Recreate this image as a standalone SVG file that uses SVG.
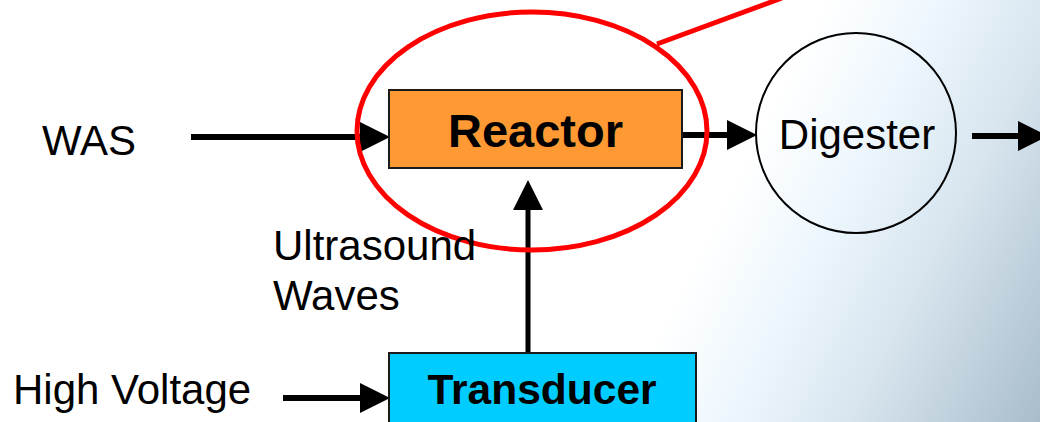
<svg xmlns="http://www.w3.org/2000/svg" width="1040" height="422" viewBox="0 0 1040 422">
<defs>
<linearGradient id="bg" gradientUnits="userSpaceOnUse" x1="700" y1="250" x2="1040" y2="422">
<stop offset="0" stop-color="#FFFFFF"/>
<stop offset="0.25" stop-color="#EEF7FD"/>
<stop offset="0.55" stop-color="#D8E5EF"/>
<stop offset="1" stop-color="#A9BDCB"/>
</linearGradient>
<marker id="ah" markerUnits="userSpaceOnUse" markerWidth="30" markerHeight="30" refX="0" refY="15" orient="auto" overflow="visible">
<path d="M0,0 L30,15 L0,30 Z" fill="#000"/>
</marker>
<style>
.lbl{font-family:"Liberation Sans",Arial,sans-serif;font-size:42px;fill:#000}
.bold{font-family:"Liberation Sans",Arial,sans-serif;font-weight:bold;fill:#000}
.conn{stroke:#000;stroke-width:6;fill:none;marker-end:url(#ah)}
.box{stroke:#1a1a1a;stroke-width:2}
</style>
</defs>
<rect x="0" y="0" width="1040" height="422" fill="url(#bg)"/>
<g id="connectors">
<line class="conn" x1="191" y1="137" x2="360" y2="137"/>
<line class="conn" x1="682" y1="135" x2="727" y2="135"/>
<line class="conn" x1="972" y1="136" x2="1018" y2="136"/>
<line class="conn" x1="528" y1="353" x2="528" y2="210" style="stroke-width:5"/>
<line class="conn" x1="283" y1="398" x2="360" y2="398"/>
</g>
<g id="reactor">
<rect class="box" x="389" y="90" width="293" height="78" fill="#FF9933"/>
<text class="bold" x="535.5" y="147" font-size="47" text-anchor="middle">Reactor</text>
</g>
<g id="digester">
<circle cx="856" cy="133" r="100" fill="none" stroke="#000" stroke-width="2"/>
<text class="lbl" x="857" y="149" text-anchor="middle">Digester</text>
</g>
<g id="transducer">
<rect class="box" x="389" y="353" width="307" height="80" fill="#00CCFF"/>
<text class="bold" x="542" y="404" font-size="42.5" text-anchor="middle">Transducer</text>
</g>
<g id="highlight">
<ellipse cx="532" cy="131" rx="175" ry="119" fill="none" stroke="#FF0000" stroke-width="5"/>
<line x1="657" y1="44" x2="782" y2="-2" stroke="#FF0000" stroke-width="5"/>
</g>
<g id="was">
<text class="lbl" x="42" y="155">WAS</text>
</g>
<g id="ultrasound">
<text class="lbl" x="273" y="260">Ultrasound</text>
<text class="lbl" x="273" y="310">Waves</text>
</g>
<g id="highvoltage">
<text class="lbl" x="13" y="404">High Voltage</text>
</g>
</svg>
